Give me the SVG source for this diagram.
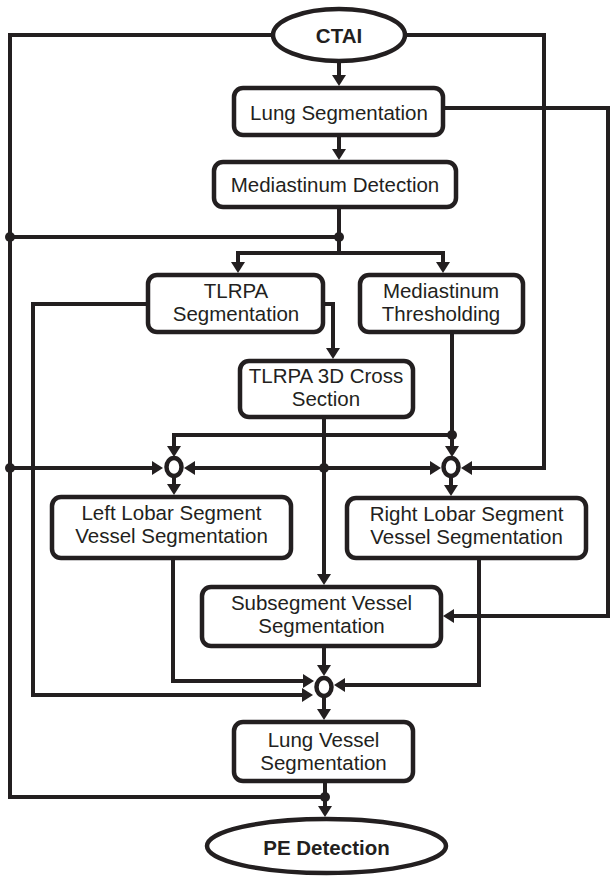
<svg xmlns="http://www.w3.org/2000/svg" width="611" height="877" viewBox="0 0 611 877">
<style>
.box{fill:#fff;stroke:#231f20;stroke-width:4.5}
.ell{fill:#fff;stroke:#231f20;stroke-width:4.5}
.t{font-family:"Liberation Sans",Arial,sans-serif;font-size:20.5px;fill:#231f20;text-anchor:middle}
.b{font-weight:bold}
.c path{fill:none;stroke:#231f20;stroke-width:4}
.a{marker-end:url(#ah)}
.dot{fill:#231f20}
.j{fill:#fff;stroke:#231f20;stroke-width:4.5}
</style>
<defs>
<marker id="ah" viewBox="0 0 11 14" refX="3" refY="7" markerWidth="11" markerHeight="14" markerUnits="userSpaceOnUse" orient="auto">
<path d="M0,0 L11,7 L0,14 z" fill="#231f20"/>
</marker>
</defs>
<rect width="611" height="877" fill="#fff"/>
<g id="connectors" class="c">
<path d="M271 35 H10 V797 H325"/>
<path d="M407 35 H544 V468 H469" class="a"/>
<path d="M339 61 V78" class="a"/>
<path d="M339 135 V152" class="a"/>
<path d="M443 108 H608 V616 H451" class="a"/>
<path d="M339 207 V253"/>
<path d="M10 237 H339"/>
<path d="M339 253 H238 V265" class="a"/>
<path d="M339 253 H443 V265" class="a"/>
<path d="M146 304 H33 V695 H305" class="a"/>
<path d="M325 304 H333 V351" class="a"/>
<path d="M324 419 V577" class="a"/>
<path d="M452 334 V449" class="a"/>
<path d="M452 435 H174 V449" class="a"/>
<path d="M10 468 H155" class="a"/>
<path d="M324 468 H192" class="a"/>
<path d="M324 468 H433" class="a"/>
<path d="M174 477 V487" class="a"/>
<path d="M451 477 V488" class="a"/>
<path d="M173 560 V681 H306" class="a"/>
<path d="M479 560 V685 H342" class="a"/>
<path d="M324 648 V668" class="a"/>
<path d="M324 698 V712" class="a"/>
<path d="M325 783 V809" class="a"/>
<circle class="dot" cx="10" cy="237" r="5"/>
<circle class="dot" cx="339" cy="237" r="5"/>
<circle class="dot" cx="452" cy="435" r="5"/>
<circle class="dot" cx="10" cy="468" r="5"/>
<circle class="dot" cx="324" cy="468" r="5"/>
<circle class="dot" cx="325" cy="797" r="5"/>
</g>
<g id="junction-left"><ellipse class="j" cx="174" cy="467" rx="7.5" ry="9"/></g>
<g id="junction-right"><ellipse class="j" cx="451" cy="467" rx="7.5" ry="9"/></g>
<g id="junction-bottom"><ellipse class="j" cx="324" cy="687" rx="7.5" ry="9"/></g>
<g id="ctai">
<ellipse class="ell" cx="339" cy="35" rx="66" ry="26"/>
<text class="t b" x="339" y="43" font-size="20">CTAI</text>
</g>
<g id="lung-seg">
<rect class="box" x="234" y="88" width="209" height="47" rx="9"/>
<text class="t" x="339" y="120">Lung Segmentation</text>
</g>
<g id="mediastinum-detection">
<rect class="box" x="214" y="162" width="242" height="45" rx="9"/>
<text class="t" x="335" y="192">Mediastinum Detection</text>
</g>
<g id="tlrpa-seg">
<rect class="box" x="148" y="275" width="175" height="57" rx="9"/>
<text class="t" x="236" y="298">TLRPA</text>
<text class="t" x="236" y="321">Segmentation</text>
</g>
<g id="mediastinum-thresholding">
<rect class="box" x="360" y="275" width="163" height="57" rx="9"/>
<text class="t" x="441" y="298">Mediastinum</text>
<text class="t" x="441" y="321">Thresholding</text>
</g>
<g id="tlrpa-3d">
<rect class="box" x="240" y="361" width="173" height="56" rx="9"/>
<text class="t" x="326" y="383">TLRPA 3D Cross</text>
<text class="t" x="326" y="406">Section</text>
</g>
<g id="left-lobar">
<rect class="box" x="52" y="497" width="239" height="61" rx="9"/>
<text class="t" x="171.5" y="520">Left Lobar Segment</text>
<text class="t" x="171.5" y="543">Vessel Segmentation</text>
</g>
<g id="right-lobar">
<rect class="box" x="347" y="498" width="239" height="60" rx="9"/>
<text class="t" x="466.5" y="521">Right Lobar Segment</text>
<text class="t" x="466.5" y="544">Vessel Segmentation</text>
</g>
<g id="subsegment">
<rect class="box" x="202" y="587" width="239" height="59" rx="9"/>
<text class="t" x="321.5" y="610">Subsegment Vessel</text>
<text class="t" x="321.5" y="633">Segmentation</text>
</g>
<g id="lung-vessel">
<rect class="box" x="234" y="722" width="179" height="59" rx="9"/>
<text class="t" x="323.5" y="747">Lung Vessel</text>
<text class="t" x="323.5" y="770">Segmentation</text>
</g>
<g id="pe-detection">
<ellipse class="ell" cx="326.5" cy="846" rx="119.5" ry="27"/>
<text class="t b" x="326.5" y="855">PE Detection</text>
</g>
</svg>
